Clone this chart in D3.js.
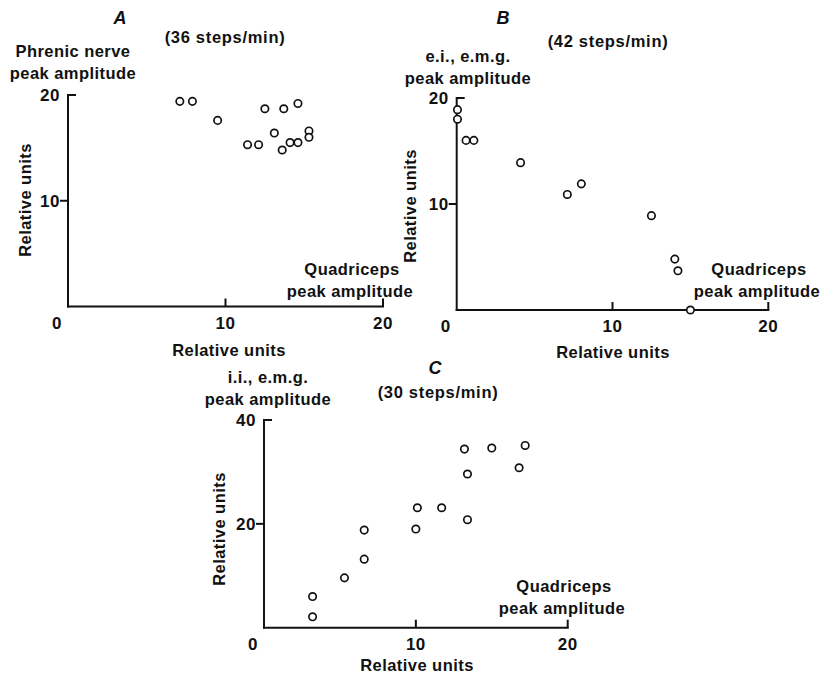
<!DOCTYPE html>
<html><head><meta charset="utf-8">
<script src="https://cdn.jsdelivr.net/npm/d3@7"></script>
<style>body{margin:0;background:#fff}svg{display:block}text{font-family:"Liberation Sans",Arial,sans-serif;font-weight:bold;fill:#111}</style>
</head><body><div id="chart"></div>
<script>
// Panel A: quadriceps vs phrenic nerve peak amplitude (36 steps/min)
const aX = [7.1, 7.9, 9.5, 12.5, 13.7, 14.6, 13.1, 11.4, 12.1, 13.6, 14.1, 14.6, 15.3, 15.3];
const aY = [19.4, 19.4, 17.6, 18.7, 18.7, 19.2, 16.4, 15.3, 15.3, 14.8, 15.5, 15.5, 16.6, 16.0];
// Panel B: quadriceps vs e.i. e.m.g. (42 steps/min)
const bX = [0.05, 0.05, 0.6, 1.1, 4.1, 7.1, 8.0, 12.5, 14.0, 14.2, 15.0];
const bY = [18.9, 18.0, 16.0, 16.0, 13.9, 10.9, 11.9, 8.9, 4.8, 3.7, 0.0];
// Panel C: quadriceps vs i.i. e.m.g. (30 steps/min)
const cX = [13.2, 15.0, 17.2, 13.4, 16.8, 10.1, 11.7, 13.4, 6.6, 10.0, 6.6, 5.3, 3.2, 3.2];
const cY = [34.4, 34.6, 35.1, 29.6, 30.8, 23.1, 23.1, 20.8, 18.8, 19.0, 13.2, 9.6, 6.0, 2.1];

const xTicks = [0, 10, 20];
const yTicksAB = [10, 20];
const yTicksC = [20, 40];

const panels = [
  {letter:"A", rate:"(36 steps/min)", ylab:["Phrenic nerve","peak amplitude"], xs:aX, ys:aY, yMax:20, yTicks:yTicksAB,
   left:68, right:383, top:95, bottom:306.5, letterPos:[120,24], ratePos:[225,43], ylabPos:[73,57], qPos:[350,275], rotPos:[31,200], xlabPos:[229,356]},
  {letter:"B", rate:"(42 steps/min)", ylab:["e.i., e.m.g.","peak amplitude"], xs:bX, ys:bY, yMax:20, yTicks:yTicksAB,
   left:456.7, right:768.3, top:98, bottom:310, letterPos:[503,24], ratePos:[608,47], ylabPos:[468,62], qPos:[757,275], rotPos:[416,206], xlabPos:[613,358]},
  {letter:"C", rate:"(30 steps/min)", ylab:["i.i., e.m.g.","peak amplitude"], xs:cX, ys:cY, yMax:40, yTicks:yTicksC,
   left:264, right:567.7, top:420, bottom:627.7, letterPos:[435,374], ratePos:[438,398], ylabPos:[268,383], qPos:[562,592], rotPos:[225,529], xlabPos:[417,671]}
];

const svg = d3.select("#chart").append("svg").attr("width",826).attr("height",674);
const FS = 16.5;

panels.forEach(p => {
  const x = d3.scaleLinear().domain([0,20]).range([p.left,p.right]);
  const y = d3.scaleLinear().domain([0,p.yMax]).range([p.bottom,p.top]);
  const g = svg.append("g");
  const line = (x1,y1,x2,y2)=>g.append("line").attr("x1",x1).attr("y1",y1).attr("x2",x2).attr("y2",y2)
     .attr("stroke","#111").attr("stroke-width",2);
  // axes
  line(x(0), y(p.yMax)-1, x(0), y(0)+1);
  line(x(0)-1, y(0), x(20)+1, y(0));
  // y ticks: top one points inward, middle outward
  p.yTicks.forEach(v => {
    if (v === p.yMax) line(x(0), y(v), x(0)+8, y(v));
    else line(x(0)-8, y(v), x(0), y(v));
  });
  // x ticks point upward
  xTicks.filter(v=>v>0).forEach(v => line(x(v), y(0), x(v), y(0)-8));
  // tick labels
  p.yTicks.forEach(v => g.append("text").attr("x",x(0)-8).attr("y",y(v)+6).attr("text-anchor","end")
     .attr("font-size",17).attr("letter-spacing",0.5).text(v));
  xTicks.forEach(v => g.append("text").attr("x", v===0? x(0)-11 : x(v)).attr("y",y(0)+22).attr("text-anchor","middle")
     .attr("font-size",17).attr("letter-spacing",0.5).text(v));
  // points
  g.selectAll("circle").data(p.xs.map((d,i)=>[d,p.ys[i]])).join("circle")
    .attr("cx",d=>x(d[0])).attr("cy",d=>y(d[1])).attr("r",3.7)
    .attr("fill","#fff").attr("stroke","#111").attr("stroke-width",1.7);
  // labels
  const T = (x0,y0,t,fs)=>g.append("text").attr("x",x0).attr("y",y0).attr("text-anchor","middle")
    .attr("font-size",fs||FS).attr("letter-spacing",0.45).text(t);
  T(p.letterPos[0],p.letterPos[1],p.letter,18).attr("font-style","italic").attr("letter-spacing",0);
  T(p.ratePos[0],p.ratePos[1],p.rate).attr("letter-spacing",0.7);
  p.ylab.forEach((t,i)=>T(p.ylabPos[0],p.ylabPos[1]+i*22,t));
  ["Quadriceps","peak amplitude"].forEach((t,i)=>T(p.qPos[0]+(i===0?2:0),p.qPos[1]+i*22,t));
  T(p.xlabPos[0],p.xlabPos[1],"Relative units");
  g.append("text").attr("transform",`translate(${p.rotPos[0]},${p.rotPos[1]}) rotate(-90)`).attr("text-anchor","middle")
    .attr("font-size",FS).attr("letter-spacing",0.45).text("Relative units");
});
</script></body></html>
